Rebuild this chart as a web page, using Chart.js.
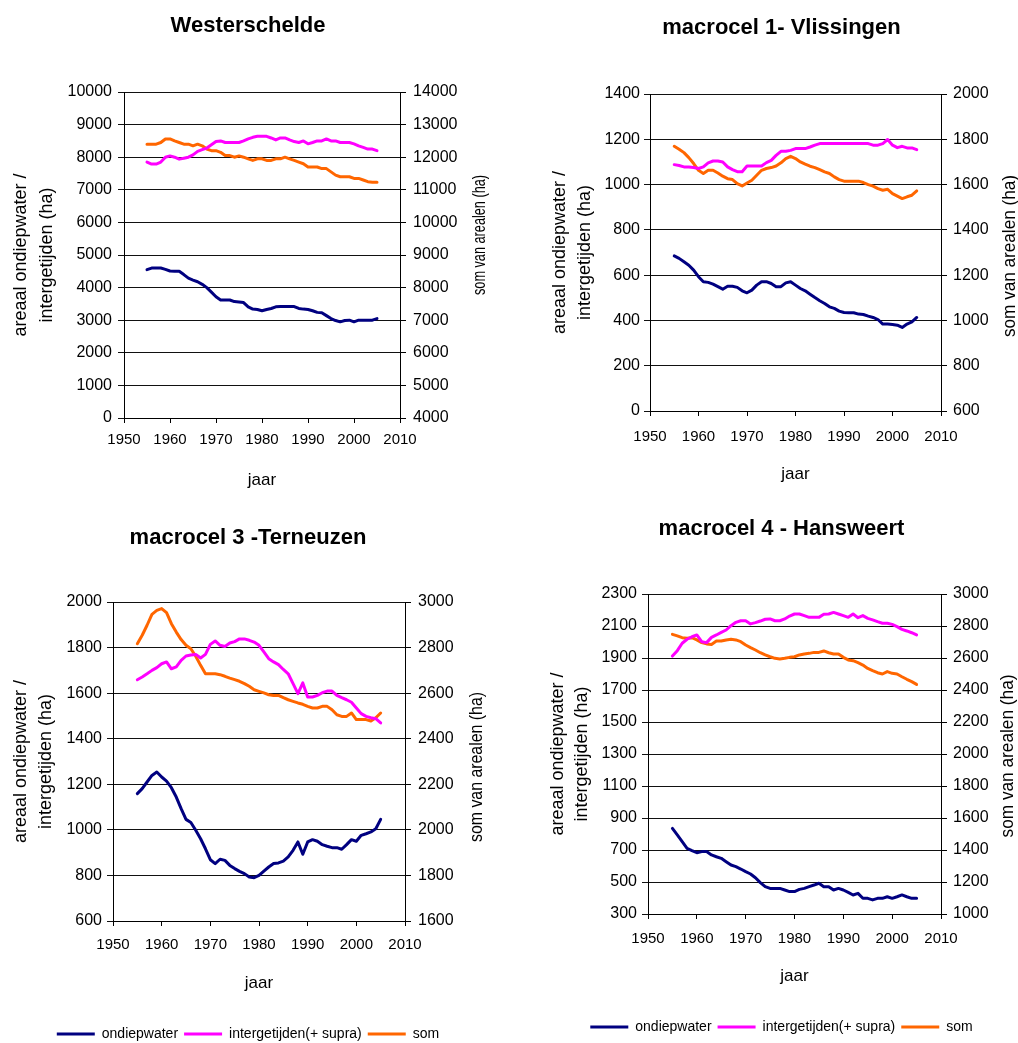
<!DOCTYPE html>
<html>
<head>
<meta charset="utf-8">
<title>Areaal ondiepwater en intergetijden per macrocel</title>
<script src="https://cdn.jsdelivr.net/npm/chart.js@4.4.1/dist/chart.umd.min.js"></script>
<style>
  html, body { margin: 0; padding: 0; background: #fff; overflow: hidden; width: 1018px; height: 1043px; }
  canvas { position: absolute; }
</style>
</head>
<body>
<canvas id="c1" width="496" height="500" style="left:0px;top:0px;width:496px;height:500px"></canvas>
<canvas id="c2" width="473" height="500" style="left:545px;top:0px;width:473px;height:500px"></canvas>
<canvas id="c3" width="496" height="551" style="left:0px;top:500px;width:496px;height:551px"></canvas>
<canvas id="c4" width="473" height="544" style="left:545px;top:500px;width:473px;height:544px"></canvas>
<script>
// ---- data (ha), one value per year ----
const years = [1955,1956,1957,1958,1959,1960,1961,1962,1963,1964,
               1965,1966,1967,1968,1969,1970,1971,1972,1973,1974,
               1975,1976,1977,1978,1979,1980,1981,1982,1983,1984,
               1985,1986,1987,1988,1989,1990,1991,1992,1993,1994,
               1995,1996,1997,1998,1999,2000,2001,2002,2003,2004,
               2005];
const seriesNames = ['ondiepwater', 'intergetijden(+ supra)', 'som'];
const yearTicks = [1950, 2010, 10];

// Westerschelde
const wsOndiep = [4550,4600,4600,4600,4560,4510,4500,4500,4400,4290,
                  4230,4180,4100,4000,3860,3720,3620,3620,3620,3570,
                  3560,3540,3410,3340,3330,3290,3330,3360,3410,3420,
                  3420,3420,3420,3360,3340,3330,3290,3240,3230,3140,
                  3050,2990,2950,2990,3000,2950,3000,3000,3000,3000,
                  3050];
const wsInter = [7850,7790,7790,7850,8000,8040,8000,7940,7970,8000,
                 8070,8180,8230,8280,8380,8480,8500,8450,8450,8450,
                 8450,8500,8560,8610,8640,8640,8640,8590,8530,8590,
                 8590,8530,8480,8450,8500,8410,8450,8500,8500,8560,
                 8500,8500,8450,8450,8450,8410,8350,8300,8250,8250,
                 8200];
const wsSom = [12400,12400,12400,12450,12560,12560,12500,12450,12400,12400,
               12350,12400,12350,12250,12200,12200,12150,12050,12050,12000,
               12040,12000,11950,11900,11950,11950,11900,11900,11950,11950,
               12000,11950,11900,11850,11800,11700,11700,11700,11650,11650,
               11550,11450,11400,11400,11400,11350,11350,11300,11250,11230,
               11230];
const wsLeftTicks = [0, 10000, 1000];
const wsRightTicks = [4000, 14000, 1000];

// macrocel 1 - Vlissingen
const vlOndiep = [685,674,659,644,622,593,571,568,560,549,
                  538,551,551,546,531,522,534,556,571,571,
                  563,549,549,566,571,556,541,531,516,501,
                  487,475,460,453,441,435,434,434,428,426,
                  419,413,404,384,384,382,379,369,384,394,
                  413];
const vlInter = [1088,1084,1078,1078,1075,1071,1078,1096,1104,1104,
                 1100,1078,1066,1057,1057,1082,1082,1082,1082,1097,
                 1107,1129,1147,1147,1151,1159,1159,1159,1166,1174,
                 1181,1181,1181,1181,1181,1181,1181,1181,1181,1181,
                 1181,1174,1174,1181,1199,1174,1163,1169,1162,1162,
                 1154];
const vlSom = [1769,1756,1741,1719,1693,1663,1649,1663,1663,1651,
               1637,1626,1622,1604,1594,1607,1619,1641,1663,1671,
               1675,1682,1696,1715,1725,1715,1700,1690,1681,1675,
               1666,1656,1649,1634,1622,1615,1615,1615,1615,1609,
               1600,1593,1582,1575,1579,1560,1549,1538,1546,1553,
               1572];
const vlLeftTicks = [0, 1400, 200];
const vlRightTicks = [600, 2000, 200];

// macrocel 3 - Terneuzen
const teOndiep = [1159,1181,1210,1239,1254,1232,1214,1185,1144,1093,
                  1046,1032,998,961,917,869,852,871,866,844,
                  830,818,808,793,790,800,819,837,852,855,
                  863,881,910,947,893,947,957,950,935,928,
                  922,922,915,935,957,950,976,983,991,1005,
                  1046];
const teInter = [1659,1671,1685,1700,1712,1729,1737,1707,1715,1744,
                 1763,1767,1770,1754,1770,1814,1829,1810,1805,1820,
                 1826,1838,1838,1832,1824,1810,1781,1751,1737,1725,
                 1704,1685,1642,1598,1645,1583,1583,1590,1602,1609,
                 1609,1590,1580,1571,1560,1535,1510,1498,1492,1488,
                 1469];
const teSom = [2817,2854,2898,2946,2963,2971,2953,2905,2868,2835,
               2810,2795,2762,2722,2685,2685,2685,2681,2674,2666,
               2659,2652,2642,2630,2615,2608,2601,2593,2590,2590,
               2580,2571,2564,2557,2551,2542,2535,2535,2542,2542,
               2527,2505,2498,2498,2513,2484,2484,2484,2478,2492,
               2513];
const teLeftTicks = [600, 2000, 200];
const teRightTicks = [1600, 3000, 200];

// macrocel 4 - Hansweert
const haOndiep = [835,794,752,710,696,683,690,690,669,658,
                  648,627,606,596,581,565,550,527,496,471,
                  460,460,460,450,440,440,454,460,471,481,
                  492,471,471,450,460,450,435,419,429,398,
                  398,388,398,398,408,398,408,419,408,398,
                  398];
const haInter = [1912,1946,1992,2017,2033,2044,2002,1996,2029,2044,
                 2060,2075,2102,2123,2133,2133,2113,2121,2131,2142,
                 2144,2133,2133,2144,2162,2175,2175,2165,2154,2154,
                 2154,2173,2175,2185,2175,2165,2154,2175,2152,2165,
                 2148,2138,2127,2117,2117,2110,2096,2079,2069,2058,
                 2044];
const haSom = [2748,2738,2727,2723,2727,2713,2696,2688,2685,2706,
               2706,2713,2717,2713,2702,2681,2665,2650,2633,2619,
               2608,2598,2594,2598,2604,2608,2619,2625,2629,2635,
               2635,2644,2633,2625,2625,2604,2588,2583,2571,2556,
               2535,2521,2508,2500,2515,2504,2500,2483,2467,2452,
               2435];
const haLeftTicks = [300, 2300, 200];
const haRightTicks = [1000, 3000, 200];

// ---- styling ----
const FONT = '"Liberation Sans", Arial, Helvetica, sans-serif';
const COLORS = ['#000080', '#FF00FF', '#FF6600'];
const LINE_WIDTH = 3;
Chart.defaults.font.family = FONT;
Chart.defaults.color = '#000';

// right-hand axis title, written bottom-to-top like the left one
const rightAxisTitle = {
  id: 'rightAxisTitle',
  afterDraw(chart, args, opts) {
    if (!opts || !opts.text) return;
    const ctx = chart.ctx;
    ctx.save();
    ctx.translate(opts.x, opts.y);
    ctx.rotate(-Math.PI / 2);
    ctx.font = '18px ' + FONT;
    ctx.fillStyle = '#000';
    ctx.textAlign = 'center';
    ctx.textBaseline = 'middle';
    ctx.fillText(opts.text, 0, 0, opts.maxWidth);
    ctx.restore();
  }
};

function pts(values) {
  return years.map((yr, i) => ({x: yr, y: values[i]}));
}

function series(i, values, axis) {
  return {
    label: seriesNames[i], data: pts(values), yAxisID: axis,
    borderColor: COLORS[i], backgroundColor: COLORS[i], borderWidth: LINE_WIDTH
  };
}

function makeChart(id, title, ondiep, inter, som, leftTicks, rightTicks, f) {
  const plain = v => String(v);
  new Chart(document.getElementById(id), {
    type: 'line',
    data: {
      datasets: [series(0, ondiep, 'y'), series(1, inter, 'y'), series(2, som, 'y2')]
    },
    options: {
      responsive: false,
      animation: false,
      devicePixelRatio: 1,
      layout: {padding: 0},
      elements: {
        line: {tension: 0, fill: false, borderJoinStyle: 'round', borderCapStyle: 'round'},
        point: {radius: 0, hoverRadius: 0}
      },
      plugins: {
        title: {
          display: true, text: title, color: '#000',
          font: {size: 22, weight: 'bold', lineHeight: 1.2},
          padding: {top: f.titleTop, bottom: f.titleBottom}
        },
        legend: {
          display: f.legend, position: 'bottom',
          labels: {
            usePointStyle: true, pointStyle: 'line', pointStyleWidth: 38,
            padding: 6, color: '#000', font: {size: 14}
          }
        },
        tooltip: {enabled: false},
        rightAxisTitle: {text: 'som van arealen (ha)', x: f.rtX, y: f.rtY, maxWidth: f.rtW}
      },
      scales: {
        x: {
          type: 'linear', min: yearTicks[0], max: yearTicks[1],
          afterFit: s => { s.height = f.xH; },
          ticks: {stepSize: yearTicks[2], padding: f.xPad, font: {size: 15}, callback: plain, maxRotation: 0, autoSkip: false},
          grid: {drawOnChartArea: false, tickLength: 5, color: '#000'},
          border: {color: '#000', width: 1},
          title: {display: true, text: 'jaar', font: {size: 17}, padding: {top: 0, bottom: f.jaarPad}}
        },
        y: {
          type: 'linear', position: 'left',
          min: leftTicks[0], max: leftTicks[1],
          afterFit: s => { s.width = f.yW; },
          ticks: {stepSize: leftTicks[2], padding: f.yPad, font: {size: 16}, callback: plain},
          grid: {tickLength: 6, color: '#111'},
          border: {color: '#000', width: 1},
          title: {
            display: true, text: ['areaal ondiepwater /', 'intergetijden (ha)'],
            font: {size: 18, lineHeight: f.lh + 'px'}, padding: {top: f.ytPad, bottom: 0}
          }
        },
        y2: {
          type: 'linear', position: 'right',
          min: rightTicks[0], max: rightTicks[1],
          afterFit: s => { s.width = f.y2W; },
          ticks: {stepSize: rightTicks[2], padding: f.y2Pad, font: {size: 16}, callback: plain},
          grid: {drawOnChartArea: false, tickLength: 6, color: '#000'},
          border: {color: '#000', width: 1}
        }
      }
    },
    plugins: [rightAxisTitle]
  });
}

makeChart('c1', 'Westerschelde', wsOndiep, wsInter, wsSom, wsLeftTicks, wsRightTicks, {
  titleTop: 13, titleBottom: 52.6, yW: 124, y2W: 96, xH: 82, xPad: 8, jaarPad: 9.8,
  ytPad: 8, lh: 26, yPad: 6, y2Pad: 7, legend: false, rtX: 480, rtY: 235, rtW: 120
});
makeChart('c2', 'macrocel 1- Vlissingen', vlOndiep, vlInter, vlSom, vlLeftTicks, vlRightTicks, {
  titleTop: 14.3, titleBottom: 53.3, yW: 105, y2W: 77, xH: 89, xPad: 11.4, jaarPad: 15.8,
  ytPad: 2.5, lh: 25, yPad: 4, y2Pad: 6, legend: false, rtX: 465, rtY: 256, rtW: 162
});
makeChart('c3', 'macrocel 3 -Terneuzen', teOndiep, teInter, teSom, teLeftTicks, teRightTicks, {
  titleTop: 24.3, titleBottom: 51.3, yW: 113, y2W: 91, xH: 100, xPad: 10.1, jaarPad: 27.8,
  ytPad: 9, lh: 25, yPad: 5, y2Pad: 7, legend: true, rtX: 477, rtY: 267, rtW: 150
});
makeChart('c4', 'macrocel 4 - Hansweert', haOndiep, haInter, haSom, haLeftTicks, haRightTicks, {
  titleTop: 15.3, titleBottom: 52.3, yW: 103, y2W: 77, xH: 100, xPad: 10.4, jaarPad: 27.3,
  ytPad: 1, lh: 24, yPad: 5, y2Pad: 6, legend: true, rtX: 463, rtY: 256, rtW: 163
});
</script>
</body>
</html>
